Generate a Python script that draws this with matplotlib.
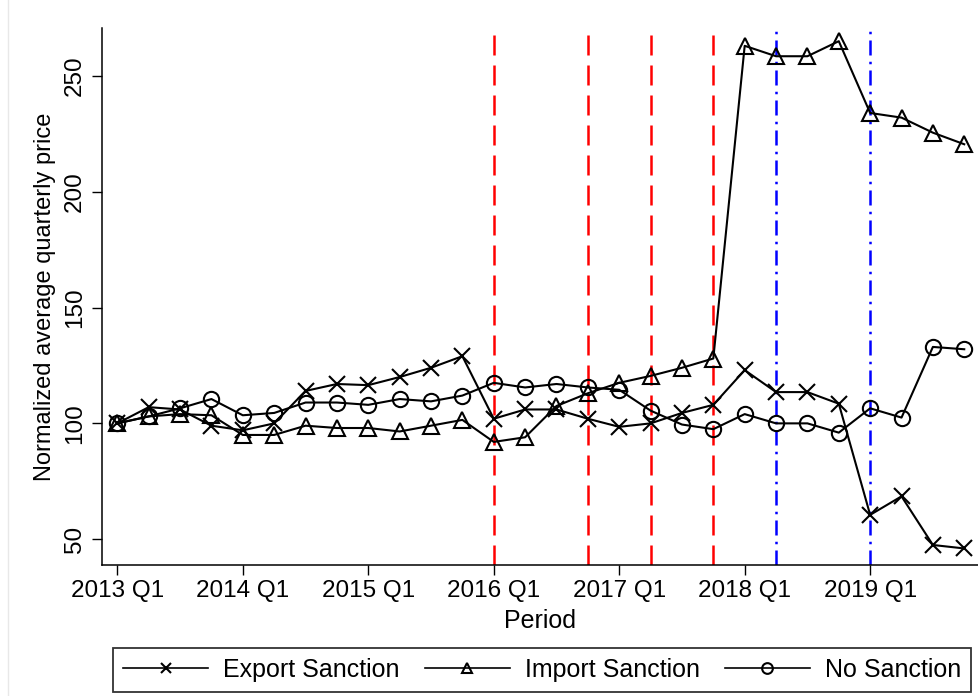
import matplotlib
matplotlib.use("Agg")
import matplotlib.pyplot as plt
from matplotlib.lines import Line2D

plt.rcParams['font.family'] = ['Liberation Sans', 'DejaVu Sans']

# Trimestres de 2013 Q1 a 2019 Q4
periods = [f"{y} Q{q}" for y in range(2013, 2020) for q in range(1, 5)]

export_sanction = [100, 107, 106, 99, 97, 100, 114, 117, 116.5, 120, 124, 129,
                   102, 106, 106, 102, 98.5, 100, 104.5, 108, 123, 113.5, 113.5, 108.5,
                   60.5, 68.5, 47.5, 46]
import_sanction = [100, 103, 104, 103.5, 95, 95, 99, 98, 98, 96.5, 99, 101.5,
                   92, 94, 107.5, 113, 117.5, 120.5, 124, 128, 263, 258.5, 258.5, 265,
                   234, 232, 225.5, 220.5]
no_sanction = [100, 103, 106.5, 110.5, 103.5, 104.5, 109, 109, 108, 110.5, 109.5, 112,
               117.5, 115.5, 117, 115.5, 114.5, 105.5, 99.5, 97.5, 104, 100, 100, 96,
               106.5, 102.5, 133, 132]

# Linhas verticais: eventos de sanção (vermelho) e outros marcos (azul)
red_events = ["2016 Q1", "2016 Q4", "2017 Q2", "2017 Q4"]
blue_events = ["2018 Q2", "2019 Q1"]

tick_labels = ["2013 Q1", "2014 Q1", "2015 Q1", "2016 Q1", "2017 Q1", "2018 Q1", "2019 Q1"]
y_ticks = [50, 100, 150, 200, 250]

fig = plt.figure(figsize=(9.79, 6.96), dpi=100)
ax = fig.add_axes([0.1037, 0.1887, 0.8963, 0.7711])

x = list(range(len(periods)))
style = dict(color='black', linewidth=1.5, markersize=11, fillstyle='none',
             markeredgewidth=1.5)
ax.plot(x, export_sanction, marker='x', label='Export Sanction', **style)
ax.plot(x, import_sanction, marker='^', label='Import Sanction', **style)
ax.plot(x, no_sanction, marker='o', label='No Sanction', **style)

for ev in red_events:
    ax.axvline(periods.index(ev), color='red', linewidth=1.8, dashes=(8, 4), zorder=0)
for ev in blue_events:
    ax.axvline(periods.index(ev), color='blue', linewidth=1.8, dashes=(6, 2.5, 1, 2.5), zorder=0)

ax.set_xlim(-0.504, 27.47)
ax.set_ylim(39.0, 270.7)
ax.set_xticks([periods.index(t) for t in tick_labels])
ax.set_xticklabels(tick_labels, fontsize=17.5)
ax.set_yticks(y_ticks)
ax.set_yticklabels([str(v) for v in y_ticks], fontsize=17.5, rotation=90, va='center')
ax.tick_params(length=7, width=1, direction='out', pad=4)

ax.spines['top'].set_visible(False)
ax.spines['right'].set_visible(False)
ax.spines['left'].set_linewidth(1.1)
ax.spines['bottom'].set_linewidth(1.1)

ax.set_xlabel('Period', fontsize=18, labelpad=5)
ax.set_ylabel('Normalized average quarterly price', fontsize=17, labelpad=6)

leg = fig.legend(loc='center', bbox_to_anchor=(0.554, 0.0374), ncol=3, fontsize=18,
                 frameon=True, fancybox=False, edgecolor='black', handlelength=3.4,
                 markerscale=0.7, columnspacing=1.0, handletextpad=0.6,
                 borderpad=0.4, borderaxespad=0)
leg.get_frame().set_linewidth(1.3)
for h in leg.legend_handles:
    h.set_linewidth(1.2)

# borda cinza clara à esquerda
fig.add_artist(Line2D([8 / 979, 8 / 979], [0, 1], transform=fig.transFigure,
                      color='#e8e8e8', linewidth=1))

fig.savefig('out.png', dpi=100)
